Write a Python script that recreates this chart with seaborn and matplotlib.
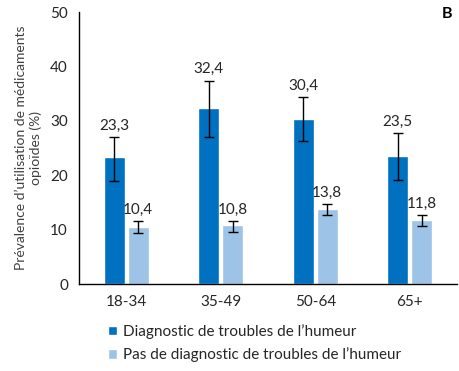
import numpy as np
import pandas as pd
import matplotlib
matplotlib.use('Agg')
import matplotlib.pyplot as plt
import seaborn as sns

# Data
age_groups = ['18-34', '35-49', '50-64', '65+']
series_names = ['Diagnostic de troubles de l\u2019humeur',
                'Pas de diagnostic de troubles de l\u2019humeur']
prev_mood = [23.3, 32.4, 30.4, 23.5]
prev_no_mood = [10.4, 10.8, 13.8, 11.8]
ci_low_mood = [19.0, 27.1, 26.3, 19.1]
ci_high_mood = [27.0, 37.4, 34.4, 27.8]
ci_low_no_mood = [9.3, 9.6, 12.7, 10.7]
ci_high_no_mood = [11.5, 11.6, 14.7, 12.6]

colors = ['#0070C0', '#9DC3E6']

df = pd.DataFrame({
    'Age': age_groups * 2,
    'Groupe': [series_names[0]] * 4 + [series_names[1]] * 4,
    'Prevalence': prev_mood + prev_no_mood,
    'Low': ci_low_mood + ci_low_no_mood,
    'High': ci_high_mood + ci_high_no_mood,
})

sns.set_theme(style='white')
plt.rcParams['font.family'] = ['Lato', 'DejaVu Sans']
plt.rcParams['font.size'] = 11

fig, ax = plt.subplots(figsize=(4.6, 3.71), dpi=100)
fig.subplots_adjust(left=79 / 460, right=457 / 460, bottom=1 - 284 / 371, top=1 - 12 / 371)

sns.barplot(data=df, x='Age', y='Prevalence', hue='Groupe', palette=colors,
            width=0.505, gap=0.13, errorbar=None, saturation=1, ax=ax)

# error bars and value labels, one container per series
for cont, (_, sub) in zip(ax.containers, df.groupby('Groupe', sort=False)):
    xs = [p.get_x() + p.get_width() / 2 for p in cont.patches]
    vals = sub['Prevalence'].values
    lo = vals - sub['Low'].values
    hi = sub['High'].values - vals
    ax.errorbar(xs, vals, yerr=[lo, hi], fmt='none', ecolor='black',
                elinewidth=1, capsize=3.5, capthick=1)
    for x, v, h in zip(xs, vals, sub['High'].values):
        ax.annotate(f'{v:.1f}'.replace('.', ','), (x, h), xytext=(0, 3),
                    textcoords='offset points', ha='center', va='bottom',
                    fontsize=11, color='#262626')

ax.set_ylim(0, 50)
ax.set_yticks(range(0, 51, 10))
ax.set_xlim(-0.5, 3.5)
ax.set_xlabel('')
ax.set_ylabel('Pr\u00e9valence d\u2019utilisation de m\u00e9dicaments\nopio\u00efdes (%)',
              fontsize=10, color='#404040', labelpad=6)
ax.tick_params(axis='both', length=0, labelsize=11, labelcolor='#262626', pad=8)

for side in ['top', 'right']:
    ax.spines[side].set_visible(False)
for side in ['left', 'bottom']:
    ax.spines[side].set_color('black')
    ax.spines[side].set_linewidth(1)

handles, labels = ax.get_legend_handles_labels()
ax.legend(handles, labels, loc='upper left', bbox_to_anchor=(0.06, -0.125),
          frameon=False, handlelength=0.6, handleheight=0.6, handletextpad=0.4,
          labelspacing=0.55, fontsize=11, labelcolor='#262626',
          borderaxespad=0)

fig.text(447 / 460, 1 - 14 / 371, 'B', ha='center', va='center',
         fontsize=11.5, fontweight='bold', color='black')

fig.savefig('out.png', dpi=100)
